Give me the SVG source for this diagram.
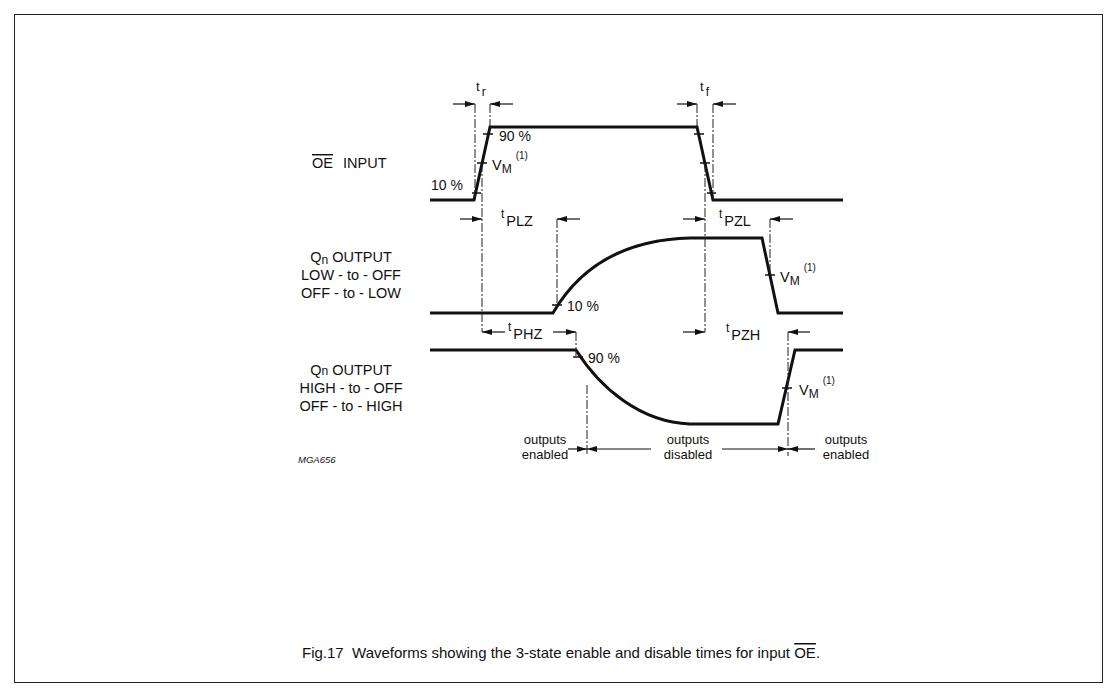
<svg xmlns="http://www.w3.org/2000/svg" width="1118" height="697" viewBox="0 0 1118 697">
<style>
  text { font-family: "Liberation Sans", Arial, sans-serif; fill: #111; }
  .lbl { font-size: 14.5px; }
  .pc { font-size: 14px; }
  .out { font-size: 13px; }
  .sm { font-size: 13px; }
  .sub { font-size: 12px; }
  .sup { font-size: 10px; }
  .wave { fill: none; stroke: #111; stroke-width: 3; stroke-linejoin: miter; }
  .tick { stroke: #111; stroke-width: 1.5; }
  .dash { stroke: #222; stroke-width: 1; stroke-dasharray: 9 2 2 2; fill: none; }
  .arr { stroke: #111; stroke-width: 1.2; marker-end: url(#ah); }
</style>
<defs>
  <marker id="ah" markerUnits="userSpaceOnUse" markerWidth="11" markerHeight="7" refX="10" refY="3.5" orient="auto">
    <path d="M0,0.5 L10,3.5 L0,6.5 z" fill="#111"/>
  </marker>
</defs>
<rect x="0" y="0" width="1118" height="697" fill="#fff"/>
<rect x="14.5" y="14.5" width="1088" height="668" fill="none" stroke="#222" stroke-width="1"/>

<g id="labels">
  <text class="lbl" x="312" y="168" style="text-decoration:overline">OE</text>
  <text class="lbl" x="343" y="168">INPUT</text>
  <text class="lbl" x="351" y="262" text-anchor="middle">Q<tspan class="sub" dy="2">n</tspan><tspan dy="-2"> OUTPUT</tspan></text>
  <text class="lbl" x="351" y="280" text-anchor="middle">LOW - to - OFF</text>
  <text class="lbl" x="351" y="298" text-anchor="middle">OFF - to - LOW</text>
  <text class="lbl" x="351" y="375" text-anchor="middle">Q<tspan class="sub">n</tspan> OUTPUT</text>
  <text class="lbl" x="351" y="393" text-anchor="middle">HIGH - to - OFF</text>
  <text class="lbl" x="351" y="411" text-anchor="middle">OFF - to - HIGH</text>
  <text x="298" y="463" font-size="9.5" font-style="italic">MGA656</text>
</g>

<g id="oe-input">
  <path class="wave" d="M430,200 L474,200 L490,127 L697,127 L713,200 L843,200"/>
  <line class="tick" x1="472" y1="193" x2="481" y2="193"/>
  <line class="tick" x1="477" y1="163" x2="487" y2="163"/>
  <line class="tick" x1="483" y1="134" x2="493" y2="134"/>
  <line class="tick" x1="694" y1="134" x2="704" y2="134"/>
  <line class="tick" x1="700" y1="163" x2="710" y2="163"/>
  <line class="tick" x1="707" y1="193" x2="716" y2="193"/>
  <text class="pc" x="431" y="190">10 %</text>
  <text class="pc" x="499" y="141">90 %</text>
  <text class="lbl" x="492" y="170">V<tspan class="sub" dy="3">M</tspan><tspan class="sup" dx="4" dy="-14">(1)</tspan></text>
</g>

<g id="qn-low-off">
  <path class="wave" d="M430,313 L553,313 C575,275 615,240 690,238 L762,238 L778,313 L843,313"/>
  <line class="tick" x1="552" y1="305" x2="562" y2="305"/>
  <line class="tick" x1="765" y1="275" x2="775" y2="275"/>
  <text class="pc" x="567" y="311">10 %</text>
  <text class="lbl" x="780" y="282">V<tspan class="sub" dy="3">M</tspan><tspan class="sup" dx="4" dy="-14">(1)</tspan></text>
</g>

<g id="qn-high-off">
  <path class="wave" d="M430,350 L576,350 C600,388 640,422 690,424 L778,424 L795,350 L843,350"/>
  <line class="tick" x1="573" y1="357" x2="583" y2="357"/>
  <line class="tick" x1="782" y1="388" x2="792" y2="388"/>
  <text class="pc" x="588" y="363">90 %</text>
  <text class="lbl" x="799" y="395">V<tspan class="sub" dy="3">M</tspan><tspan class="sup" dx="4" dy="-14">(1)</tspan></text>
</g>

<g id="connectors">
  <line class="dash" x1="475" y1="104" x2="475" y2="197"/>
  <line class="dash" x1="490" y1="104" x2="490" y2="127"/>
  <line class="dash" x1="482" y1="163" x2="482" y2="332"/>
  <line class="dash" x1="557" y1="219" x2="557" y2="305"/>
  <line class="dash" x1="576" y1="332" x2="576" y2="357"/>
  <line class="dash" x1="587" y1="385" x2="587" y2="456"/>
  <line class="dash" x1="697" y1="104" x2="697" y2="127"/>
  <line class="dash" x1="713" y1="104" x2="713" y2="200"/>
  <line class="dash" x1="705" y1="163" x2="705" y2="332"/>
  <line class="dash" x1="770" y1="219" x2="770" y2="275"/>
  <line class="dash" x1="788" y1="332" x2="788" y2="456"/>

  <line class="arr" x1="453" y1="104" x2="475" y2="104"/>
  <line class="arr" x1="513" y1="104" x2="490" y2="104"/>
  <line class="arr" x1="677" y1="104" x2="697" y2="104"/>
  <line class="arr" x1="736" y1="104" x2="713" y2="104"/>
  <line class="arr" x1="460" y1="219" x2="482" y2="219"/>
  <line class="arr" x1="580" y1="219" x2="557" y2="219"/>
  <line class="arr" x1="683" y1="219" x2="705" y2="219"/>
  <line class="arr" x1="793" y1="219" x2="770" y2="219"/>
  <line class="arr" x1="505" y1="332" x2="482" y2="332"/>
  <line class="arr" x1="553" y1="332" x2="576" y2="332"/>
  <line class="arr" x1="683" y1="332" x2="705" y2="332"/>
  <line class="arr" x1="810" y1="332" x2="788" y2="332"/>
  <line class="arr" x1="568" y1="449" x2="587" y2="449"/>
  <line class="arr" x1="651" y1="449" x2="587" y2="449"/>
  <line class="arr" x1="722" y1="449" x2="788" y2="449"/>
  <line class="arr" x1="815" y1="449" x2="788" y2="449"/>

  <text class="sm" x="476" y="91">t<tspan class="sub" dx="2" dy="5">r</tspan></text>
  <text class="sm" x="700" y="91">t<tspan class="sub" dx="2" dy="5">f</tspan></text>
  <text class="lbl" x="501" y="226"><tspan class="sub" dy="-8">t</tspan><tspan dx="2" dy="8">PLZ</tspan></text>
  <text class="lbl" x="719" y="226"><tspan class="sub" dy="-8">t</tspan><tspan dx="2" dy="8">PZL</tspan></text>
  <text class="lbl" x="508" y="339"><tspan class="sub" dy="-8">t</tspan><tspan dx="2" dy="8">PHZ</tspan></text>
  <text class="lbl" x="726" y="340"><tspan class="sub" dy="-8">t</tspan><tspan dx="2" dy="8">PZH</tspan></text>

  <text class="out" x="545" y="444" text-anchor="middle">outputs</text>
  <text class="out" x="545" y="459" text-anchor="middle">enabled</text>
  <text class="out" x="688" y="444" text-anchor="middle">outputs</text>
  <text class="out" x="688" y="459" text-anchor="middle">disabled</text>
  <text class="out" x="846" y="444" text-anchor="middle">outputs</text>
  <text class="out" x="846" y="459" text-anchor="middle">enabled</text>
</g>

<g id="caption">
  <text x="302" y="658" font-size="15">Fig.17&#160; Waveforms showing the 3-state enable and disable times for input <tspan style="text-decoration:overline">OE</tspan>.</text>
</g>
</svg>
